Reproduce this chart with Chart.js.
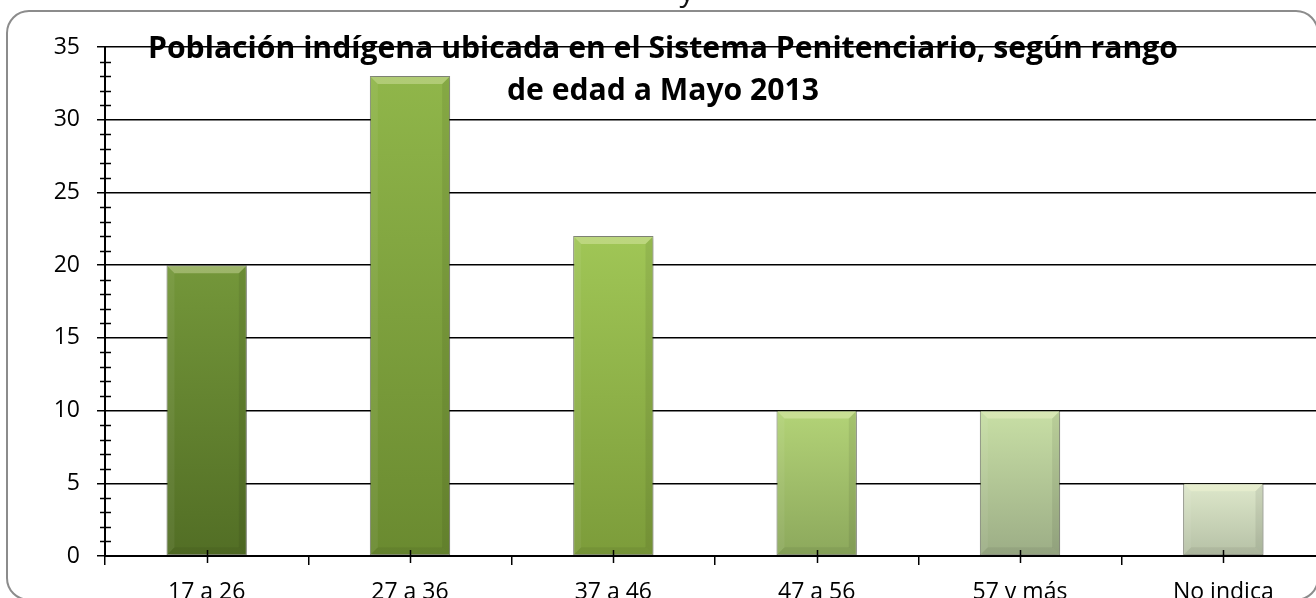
<!DOCTYPE html>
<html>
<head>
<meta charset="utf-8">
<script src="https://cdn.jsdelivr.net/npm/chart.js@4.4.1/dist/chart.umd.min.js"></script>
<style>
  html, body { margin: 0; padding: 0; background: #ffffff; overflow: hidden; width: 1316px; height: 598px; }
  #wrap { position: absolute; left: 0; top: 0; width: 1340px; height: 620px; }
</style>
</head>
<body>
<div id="wrap"><canvas id="c" width="1340" height="620"></canvas></div>
<script>
// ---- data ----
const categories = ['17 a 26', '27 a 36', '37 a 46', '47 a 56', '57 y más', 'No indica'];
const values = [20, 33, 22, 10, 10, 5];
const yMin = 0;
const yMax = 35;
const yStep = 5;
const titleLines = ['Población indígena ubicada en el Sistema Penitenciario, según rango', 'de edad a Mayo 2013'];
const topColors = ['#74973a', '#90b64a', '#a0c656', '#b3d377', '#c8dfa5', '#dee8cb'];
const bottomColors = ['#526e25', '#6a8a30', '#7c9c3a', '#8ca85c', '#9cad86', '#b5c0a5'];

const FONT = '"Open Sans", Lato, sans-serif';

function barGradient(ctx) {
  const chart = ctx.chart;
  const i = ctx.dataIndex;
  const ys = chart.scales.y;
  if (!chart.chartArea || !ys || i === undefined) return topColors[i || 0];
  const top = ys.getPixelForValue(values[i]);
  const bot = ys.getPixelForValue(0);
  const g = chart.ctx.createLinearGradient(0, top, 0, bot);
  g.addColorStop(0, topColors[i]);
  g.addColorStop(1, bottomColors[i]);
  return g;
}

const framePlugin = {
  id: 'frame',
  beforeDraw(chart) {
    const c = chart.ctx;
    c.save();
    c.fillStyle = '#ffffff';
    c.fillRect(0, 0, chart.width, chart.height);
    c.strokeStyle = '#8c8c8c';
    c.lineWidth = 2;
    c.beginPath();
    c.roundRect(7, 11, 1311, 589, 22);
    c.stroke();
    // fragment of text above the frame
    c.fillStyle = '#111';
    c.font = '30px ' + FONT;
    c.textAlign = 'center';
    c.textBaseline = 'alphabetic';
    c.fillText('y', 687, 1);
    c.restore();
  }
};

const barFxPlugin = {
  id: 'barfx',
  beforeDatasetsDraw(chart) {
    const c = chart.ctx;
    c.save();
    c.shadowColor = 'rgba(0,0,0,0.3)';
    c.shadowBlur = 6;
    c.shadowOffsetX = 1;
    c.shadowOffsetY = 1;
  },
  afterDatasetsDraw(chart) {
    const c = chart.ctx;
    c.restore();
    const meta = chart.getDatasetMeta(0);
    c.save();
    meta.data.forEach((el) => {
      const p = el.getProps(['x', 'y', 'width', 'base'], true);
      const l = p.x - p.width / 2, r = p.x + p.width / 2, t = p.y, b = p.base;
      const d = 8;
      const poly = (pts, col) => {
        c.beginPath();
        c.moveTo(pts[0][0], pts[0][1]);
        for (let k = 1; k < pts.length; k++) c.lineTo(pts[k][0], pts[k][1]);
        c.closePath();
        c.fillStyle = col;
        c.fill();
      };
      poly([[l + 1, t + 1], [r - 1, t + 1], [r - d, t + d], [l + d, t + d]], 'rgba(255,255,220,0.3)');
      poly([[l + 1, t + 1], [l + d, t + d], [l + d, b - d], [l + 1, b - 1]], 'rgba(255,255,255,0.06)');
      poly([[r - 1, t + 1], [r - d, t + d], [r - d, b - d], [r - 1, b - 1]], 'rgba(0,0,0,0.07)');
      poly([[l + 1, b - 1], [l + d, b - d], [r - d, b - d], [r - 1, b - 1]], 'rgba(0,0,0,0.06)');
    });
    c.restore();
  }
};

const ticksPlugin = {
  id: 'extraTicks',
  afterDraw(chart) {
    const c = chart.ctx;
    const ys = chart.scales.y, xs = chart.scales.x;
    const area = chart.chartArea;
    c.save();
    c.strokeStyle = '#000';
    c.lineWidth = 1.5;
    // minor y ticks
    for (let v = yMin; v <= yMax; v++) {
      if (v % yStep === 0) continue;
      const y = Math.round(ys.getPixelForValue(v)) + 0.5;
      c.beginPath();
      c.moveTo(area.left - 5, y);
      c.lineTo(area.left + 6, y);
      c.stroke();
    }
    // ticks at category centres
    categories.forEach((cat, i) => {
      const x = Math.round(xs.getPixelForValue(i)) + 0.5;
      c.beginPath();
      c.moveTo(x, area.bottom - 6);
      c.lineTo(x, area.bottom + 7);
      c.stroke();
    });
    // title
    c.fillStyle = '#000';
    c.textAlign = 'center';
    c.textBaseline = 'alphabetic';
    let size = 28;
    c.font = 'bold ' + size + 'px ' + FONT;
    const w = c.measureText(titleLines[0]).width;
    size = size * 1030 / w;
    c.font = 'bold ' + size.toFixed(2) + 'px ' + FONT;
    c.fillText(titleLines[0], 663, 58);
    c.fillText(titleLines[1], 663, 100);
    c.restore();
  }
};

new Chart(document.getElementById('c'), {
  type: 'bar',
  data: {
    labels: categories,
    datasets: [{
      data: values,
      backgroundColor: barGradient,
      borderColor: 'rgba(45,55,25,0.55)',
      borderWidth: 1,
      borderSkipped: false,
      categoryPercentage: 1,
      barPercentage: 0.395
    }]
  },
  options: {
    responsive: false,
    animation: false,
    devicePixelRatio: 1,
    layout: { padding: { top: 47, right: 15, left: 0, bottom: 0 } },
    plugins: {
      legend: { display: false },
      title: { display: false },
      tooltip: { enabled: false }
    },
    scales: {
      x: {
        type: 'category',
        offset: true,
        afterFit(scale) { scale.height = 64; },
        grid: {
          display: true,
          offset: true,
          drawOnChartArea: false,
          drawTicks: true,
          tickLength: 9,
          color: '#000',
          lineWidth: 1.5
        },
        border: { display: true, color: '#000', width: 2 },
        ticks: {
          color: '#000',
          font: { family: FONT, size: 23 },
          padding: 14,
          maxRotation: 0,
          autoSkip: false
        }
      },
      y: {
        min: yMin,
        max: yMax,
        afterFit(scale) { scale.width = 105; },
        grid: {
          color: '#000',
          lineWidth: 1.5,
          drawTicks: true,
          tickLength: 8,
          tickColor: '#000'
        },
        border: { display: true, color: '#000', width: 2 },
        ticks: {
          stepSize: yStep,
          color: '#000',
          font: { family: FONT, size: 23 },
          padding: 17
        }
      }
    }
  },
  plugins: [framePlugin, barFxPlugin, ticksPlugin]
});
</script>
</body>
</html>
